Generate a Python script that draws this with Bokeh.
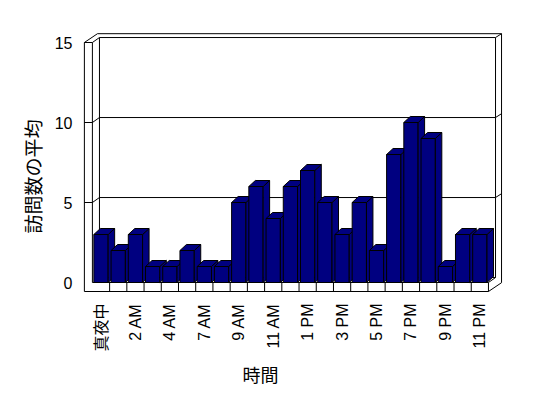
import math
from bokeh.plotting import figure
from bokeh.models import Range1d, FixedTicker, Title
from bokeh.embed import file_html
from bokeh.resources import INLINE

# ---- data ----
categories = ["真夜中", "1 AM", "2 AM", "3 AM", "4 AM", "5 AM", "7 AM", "8 AM",
              "9 AM", "10 AM", "11 AM", "12 PM", "1 PM", "2 PM", "3 PM", "4 PM",
              "5 PM", "6 PM", "7 PM", "8 PM", "9 PM", "10 PM", "11 PM"]
visits = [3, 2, 3, 1, 1, 2, 1, 1, 5, 6, 4, 6, 7, 5, 3, 5, 2, 8, 10, 9, 1, 3, 3]
y_ticks = [0, 5, 10, 15]
grid_values = [5, 10]
x_title = "時間"
y_title = "訪問数の平均"

# ---- 3D geometry (data units) ----
N = len(categories)
YMAX = 15
xL, xR = -0.5, N - 0.5
TX, TY = 0.465, 0.5625      # wall / floor thickness
IX, IY = 0.41, 0.31         # back wall offset
OX, OY = 0.76, 0.55         # outer rim offset
BW, BX, BY = 0.83, 0.377, 0.375  # bar width and depth

p = figure(width=538, height=396, output_backend="svg", toolbar_location=None,
           x_range=Range1d(-1.365, 23.78), y_range=Range1d(-0.9375, 15.75),
           min_border_left=77, min_border_right=28, min_border_top=30,
           min_border_bottom=99)
p.outline_line_color = None
p.xgrid.visible = False
p.ygrid.visible = False
p.background_fill_color = "white"
p.border_fill_color = "white"

# walls, floor, gridlines
lines = []
lines.append([(xL - TX, -TY), (xL - TX, YMAX), (xL - TX + OX, YMAX + OY),
              (xR + OX, YMAX + OY), (xR + OX, -TY + OY), (xR, -TY), (xL - TX, -TY)])
lines.append([(xL, 0), (xL, YMAX)])
lines.append([(xL - TX, YMAX), (xL, YMAX), (xL + IX, YMAX + IY)])
lines.append([(xL + IX, IY), (xL + IX, YMAX + IY), (xR + IX, YMAX + IY),
              (xR + IX, IY), (xR, 0)])
lines.append([(xR + IX, YMAX + IY), (xR + OX, YMAX + OY)])
lines.append([(xL + IX, IY), (xR + IX, IY)])
lines.append([(xL, 0), (xR, 0)])
lines.append([(xR, 0), (xR, -TY)])
for v in grid_values:
    lines.append([(xL - TX, v), (xL, v), (xL + IX, v + IY), (xR + IX, v + IY),
                  (xR + OX, v + OY)])
for k in range(1, N):
    lines.append([(k - 0.5, 0), (k - 0.5, -TY)])

p.multi_line(xs=[[pt[0] for pt in ln] for ln in lines],
             ys=[[pt[1] for pt in ln] for ln in lines],
             line_color="black", line_width=1)

# bars: front, side, top per bar, left to right
bxs, bys = [], []
for i, v in enumerate(visits):
    l, r = i - BW / 2, i + BW / 2
    bxs.append([l, r, r, l]); bys.append([0, 0, v, v])
    bxs.append([r, r + BX, r + BX, r]); bys.append([0, BY, v + BY, v])
    bxs.append([l, l + BX, r + BX, r]); bys.append([v, v + BY, v + BY, v])
p.patches(xs=bxs, ys=bys, fill_color="#000080", line_color="black", line_width=1)

# axes
p.yaxis.ticker = FixedTicker(ticks=y_ticks)
p.yaxis.axis_line_color = None
p.yaxis.major_tick_line_color = None
p.yaxis.minor_tick_line_color = None
p.yaxis.major_tick_out = 0
p.yaxis.major_tick_in = 0
p.yaxis.major_label_standoff = 5
p.yaxis.major_label_text_font = "Liberation Sans"
p.yaxis.major_label_text_font_size = "16px"
p.yaxis.major_label_text_color = "black"

even = list(range(0, N, 2))
p.xaxis.ticker = FixedTicker(ticks=even)
p.xaxis.major_label_overrides = {i: categories[i] for i in even}
p.xaxis.major_label_orientation = math.pi / 2
p.xaxis.axis_line_color = None
p.xaxis.major_tick_line_color = None
p.xaxis.minor_tick_line_color = None
p.xaxis.major_tick_out = 0
p.xaxis.major_tick_in = 0
p.xaxis.major_label_standoff = 6
p.xaxis.major_label_text_font = "Liberation Sans, Noto Sans CJK JP"
p.xaxis.major_label_text_font_size = "16px"
p.xaxis.major_label_text_color = "black"

p.add_layout(Title(text=x_title, align="left", offset=165, standoff=8,
                   text_font="Noto Sans CJK JP", text_font_size="18px",
                   text_font_style="normal", text_color="black"), "below")
p.add_layout(Title(text=y_title, align="left", offset=64, standoff=11,
                   text_font="Noto Sans CJK JP", text_font_size="19px",
                   text_font_style="normal", text_color="black"), "left")

open("out.html", "w").write(file_html(p, INLINE))
